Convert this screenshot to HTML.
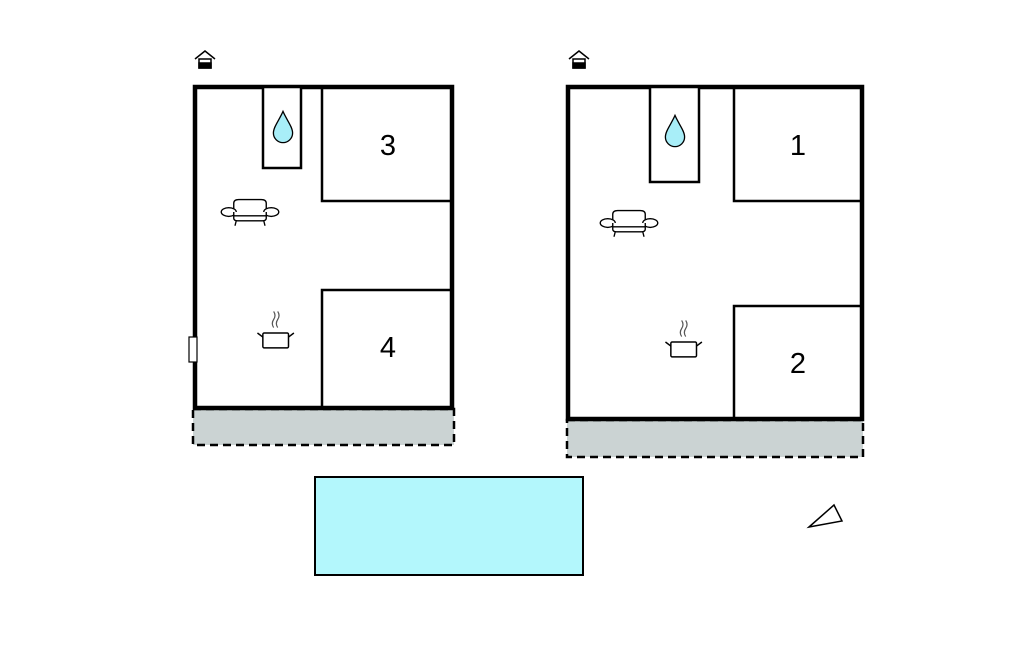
<!DOCTYPE html>
<html><head><meta charset="utf-8"><style>html,body{margin:0;padding:0;background:#fff;width:1024px;height:652px;overflow:hidden}</style></head>
<body>
<svg width="1024" height="652" viewBox="0 0 1024 652" xmlns="http://www.w3.org/2000/svg">
<defs>
<g id="sofa" fill="#fff" stroke="#000" stroke-width="1.1">
<path d="M-13,-2 L-13,-7 Q-13,-10 -9,-10 L9,-10 Q13,-10 13,-7 L13,-2"/>
<ellipse cx="-17" cy="0" rx="6" ry="3.5"/><ellipse cx="17" cy="0" rx="6" ry="3.5"/>
<path d="M-13,0 L-13,5 Q-13,7 -10,7 L10,7 Q13,7 13,5 L13,0"/>
<line x1="-13" y1="3" x2="13" y2="3"/>
<line x1="-11" y1="7" x2="-12" y2="11"/><line x1="11" y1="7" x2="12" y2="11"/>
</g>
<g id="pot" fill="#fff" stroke="#000" stroke-width="1.1">
<rect x="-9" y="0" width="19" height="11" rx="1"/>
<path d="M-9,3 L-13,0 M10,3 L14,0"/>
<path d="M-1,-4 q-2,-3 0,-6 q2,-3 0,-6 M2,-4 q-2,-3 0,-6 q2,-3 0,-6" stroke="#555" stroke-width="0.9" fill="none"/>
</g>
<g id="drop"><path d="M0,-13 C-3,-6 -8,0 -8,5 A8,8 0 0 0 8,5 C8,0 3,-6 0,-13 Z" fill="#a8eef8" stroke="#000" stroke-width="1.1"/></g>
<g id="home" stroke="#000" stroke-width="1.5" fill="none">
<path d="M-10,0 L0,-8 L10,0"/><rect x="-6" y="0" width="12" height="9" fill="#fff"/><rect x="-6" y="4" width="12" height="5" fill="#000"/>
</g>
</defs>

<!-- left house -->
<use href="#home" x="205" y="59"/>
<rect x="193" y="409" width="261" height="36" fill="#cbd3d3" stroke="#000" stroke-width="2.5" stroke-dasharray="8,5"/>
<rect x="195" y="87" width="257" height="321" fill="#fff" stroke="#000" stroke-width="4.5"/>
<rect x="263" y="87" width="38" height="81" fill="#fff" stroke="#000" stroke-width="2.5"/>
<polyline points="322,87 322,201 452,201" fill="none" stroke="#000" stroke-width="2.5"/>
<polyline points="322,408 322,290 452,290" fill="none" stroke="#000" stroke-width="2.5"/>
<rect x="189" y="337" width="8" height="25" fill="#fff" stroke="#000" stroke-width="1.2"/>
<g transform="translate(283,127) scale(1.2)"><use href="#drop"/></g>
<g transform="translate(250,212) scale(1.25)"><use href="#sofa"/></g>
<g transform="translate(275,333) scale(1.35)"><use href="#pot"/></g>
<text x="388" y="155" font-family="Liberation Sans, sans-serif" font-size="29" text-anchor="middle">3</text>
<text x="388" y="357" font-family="Liberation Sans, sans-serif" font-size="29" text-anchor="middle">4</text>

<!-- right house -->
<use href="#home" x="579" y="59"/>
<rect x="567" y="420" width="296" height="37" fill="#cbd3d3" stroke="#000" stroke-width="2.5" stroke-dasharray="8,5"/>
<rect x="568" y="87" width="294" height="332" fill="#fff" stroke="#000" stroke-width="4.5"/>
<rect x="650" y="87" width="49" height="95" fill="#fff" stroke="#000" stroke-width="2.5"/>
<polyline points="734,87 734,201 862,201" fill="none" stroke="#000" stroke-width="2.5"/>
<polyline points="734,419 734,306 862,306" fill="none" stroke="#000" stroke-width="2.5"/>
<g transform="translate(675,131) scale(1.2)"><use href="#drop"/></g>
<g transform="translate(629,223) scale(1.25)"><use href="#sofa"/></g>
<g transform="translate(683,342) scale(1.35)"><use href="#pot"/></g>
<text x="798" y="155" font-family="Liberation Sans, sans-serif" font-size="29" text-anchor="middle">1</text>
<text x="798" y="373" font-family="Liberation Sans, sans-serif" font-size="29" text-anchor="middle">2</text>

<!-- pool -->
<rect x="315" y="477" width="268" height="98" fill="#b3f7fc" stroke="#000" stroke-width="2"/>

<!-- compass -->
<polygon points="809,527 834,505 842,521" fill="#fff" stroke="#000" stroke-width="1.5"/>
</svg>
</body></html>
